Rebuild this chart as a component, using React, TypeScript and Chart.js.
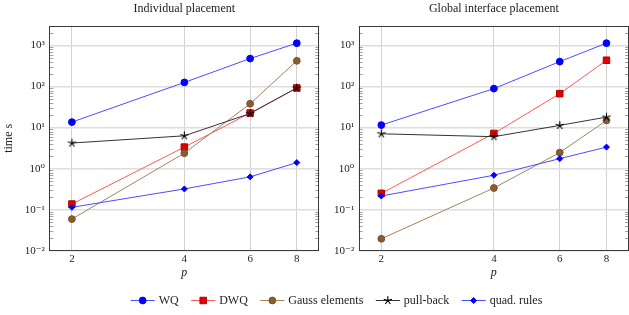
import React, { useEffect, useRef } from 'react';
import { Chart, registerables } from 'chart.js';
Chart.register(...registerables);

// ---------- data ----------
const P = [2, 4, 6, 8];
const SERIES = ['WQ', 'DWQ', 'Gauss elements', 'pull-back', 'quad. rules'];
const TITLES = ['Individual placement', 'Global interface placement'];

const leftWQ = [13.6, 126, 480, 1140];
const leftDWQ = [0.137, 3.34, 22.6, 92.5];
const leftGauss = [0.059, 2.38, 38, 423];
const leftPullBack = [4.2, 6.3, 22, 92];
const leftQuad = [0.114, 0.32, 0.63, 1.4];

const rightWQ = [11.5, 89, 405, 1140];
const rightDWQ = [0.25, 7.2, 67, 437];
const rightGauss = [0.0195, 0.337, 2.46, 14.9];
const rightPullBack = [7.05, 6.0, 11.3, 18];
const rightQuad = [0.215, 0.69, 1.75, 3.34];

const Y_TICKS = [0.01, 0.1, 1, 10, 100, 1000];
const Y_TICK_LABELS = ['10⁻²', '10⁻¹', '10⁰', '10¹', '10²', '10³'];
const X_TICK_LABELS = ['2', '4', '6', '8'];
const X_MIN = 1.74, X_MAX = 9.19;
const Y_MIN = 0.01, Y_MAX = 3000;

// ---------- styles ----------
const FONT = '"Liberation Serif", "DejaVu Serif", serif';
const TEXT = '#222';
const STYLES = [
  { line: '#4d4dff', fill: '#0000ff', border: '#0000ff', marker: 'circle', r: 3.4 },
  { line: '#ff5a5a', fill: '#e00000', border: '#b00000', marker: 'rect', r: 4.6 },
  { line: '#a5825c', fill: '#8c5c30', border: '#7a5028', marker: 'circle', r: 3.4 },
  { line: '#333333', fill: '#000000', border: '#000000', marker: 'star', r: 4.3 },
  { line: '#4d4dff', fill: '#0000ff', border: '#0000ff', marker: 'rectRot', r: 3 },
];

function drawMarker(ctx: CanvasRenderingContext2D, kind: string, x: number, y: number, s: any) {
  ctx.fillStyle = s.fill;
  ctx.strokeStyle = s.border;
  ctx.lineWidth = 1;
  ctx.beginPath();
  if (kind === 'circle') {
    ctx.arc(x, y, s.r, 0, Math.PI * 2);
    ctx.fill(); ctx.stroke();
  } else if (kind === 'rect') {
    const h = s.r * Math.SQRT1_2;
    ctx.rect(x - h, y - h, 2 * h, 2 * h);
    ctx.fill(); ctx.stroke();
  } else if (kind === 'rectRot') {
    ctx.moveTo(x - s.r, y); ctx.lineTo(x, y - s.r); ctx.lineTo(x + s.r, y); ctx.lineTo(x, y + s.r);
    ctx.closePath(); ctx.fill(); ctx.stroke();
  } else if (kind === 'star') {
    ctx.lineWidth = 1.1;
    for (let k = 0; k < 5; k++) {
      const a = (k * 72 * Math.PI) / 180;
      ctx.moveTo(x, y);
      ctx.lineTo(x + s.r * Math.sin(a), y - s.r * Math.cos(a));
    }
    ctx.stroke();
  }
}

function makeStarImage(s: any) {
  const c = document.createElement('canvas');
  c.width = 11; c.height = 11;
  const ctx = c.getContext('2d')!;
  drawMarker(ctx, 'star', 5.5, 5.5, s);
  return c;
}

const framePlugin = {
  id: 'frame',
  beforeDatasetsDraw(chart: any) {
    const { ctx, chartArea: a, scales } = chart;
    const ys = scales.y;
    ctx.save();
    ctx.strokeStyle = '#8a8a8a';
    ctx.lineWidth = 0.8;
    ctx.beginPath();
    for (let e = -2; e < 4; e++) {
      for (let m = 2; m < 10; m++) {
        const v = m * Math.pow(10, e);
        if (v > ys.max) continue;
        const py = Math.round(ys.getPixelForValue(v)) + 0.5;
        ctx.moveTo(a.left, py); ctx.lineTo(a.left + 4, py);
        ctx.moveTo(a.right - 4, py); ctx.lineTo(a.right, py);
      }
    }
    ctx.stroke();
    ctx.restore();
  },
  afterDatasetsDraw(chart: any) {
    const { ctx, chartArea: a } = chart;
    ctx.save();
    ctx.strokeStyle = '#3a3a3a';
    ctx.lineWidth = 1;
    const l = Math.round(a.left) + 0.5, t = Math.round(a.top) + 0.5;
    const r = Math.round(a.right) - 0.5, b = Math.round(a.bottom) - 0.5;
    ctx.strokeRect(l, t, r - l, b - t);
    ctx.restore();
  },
};

function Panel(props: { idx: number; series: number[][]; left: number; width: number; yWidth: number; padRight: number }) {
  const ref = useRef<HTMLCanvasElement>(null);
  useEffect(() => {
    const star = makeStarImage(STYLES[3]);
    const datasets = props.series.map((vals, i) => {
      const s = STYLES[i];
      return {
        label: SERIES[i],
        data: P.map((p, j) => ({ x: p, y: vals[j] })),
        borderColor: s.line,
        backgroundColor: s.fill,
        borderWidth: 1,
        pointBackgroundColor: s.fill,
        pointBorderColor: s.border,
        pointBorderWidth: 1,
        pointRadius: s.r,
        pointStyle: s.marker === 'star' ? star : s.marker,
        tension: 0,
        fill: false,
        order: 5 - i,
      };
    });
    const tickFont = { family: FONT, size: 11 };
    const chart = new Chart(ref.current!, {
      type: 'line',
      data: { datasets } as any,
      plugins: [framePlugin],
      options: {
        animation: false,
        responsive: false,
        events: [],
        layout: { autoPadding: false, padding: { left: 0, right: props.padRight, top: 0, bottom: 0 } },
        plugins: {
          legend: { display: false },
          tooltip: { enabled: false },
          title: {
            display: true,
            fullSize: false,
            text: TITLES[props.idx],
            color: TEXT,
            font: { family: FONT, size: 12, weight: 'normal' },
            padding: { top: 1.5, bottom: 10 },
          },
        },
        scales: {
          x: {
            type: 'logarithmic',
            bounds: 'data',
            min: X_MIN,
            max: X_MAX,
            afterBuildTicks: (s: any) => {
              s.ticks = P.map((v) => ({ value: v }));
              s.min = X_MIN; s.max = X_MAX;
            },
            afterFit: (s: any) => { s.height = 29.3; s.paddingLeft = 0; s.paddingRight = 0; },
            ticks: {
              callback: (_v: any, i: number) => X_TICK_LABELS[i],
              font: tickFont, color: TEXT, padding: 2, autoSkip: false, maxRotation: 0,
            },
            grid: { color: '#d2d2d2', lineWidth: 1, drawTicks: false },
            border: { display: false },
            title: {
              display: true, text: 'p', color: TEXT,
              font: { family: FONT, size: 12, style: 'italic' },
              padding: { top: 0, bottom: 0 },
            },
          },
          y: {
            type: 'logarithmic',
            bounds: 'data',
            min: Y_MIN,
            max: Y_MAX,
            afterBuildTicks: (s: any) => {
              s.ticks = Y_TICKS.map((v) => ({ value: v }));
              s.min = Y_MIN; s.max = Y_MAX;
            },
            afterFit: (s: any) => { s.width = props.yWidth; s.paddingTop = 0; s.paddingBottom = 0; },
            ticks: {
              callback: (_v: any, i: number) => Y_TICK_LABELS[i],
              font: tickFont, color: TEXT, padding: 4.5, autoSkip: false,
            },
            grid: { color: '#dedede', lineWidth: 1.5, drawTicks: false },
            border: { display: false },
            title: {
              display: props.idx === 0, text: 'time s', color: TEXT,
              font: { family: FONT, size: 12 },
              padding: { top: 1.4, bottom: 0 },
            },
          },
        },
      } as any,
    });
    return () => chart.destroy();
  }, []);
  return (
    <canvas
      ref={ref}
      width={props.width}
      height={280}
      style={{ position: 'absolute', left: props.left, top: 0, width: props.width, height: 280 }}
    />
  );
}

// Legend drawn by a plugin on its own (axis-less) Chart.js chart.
const legendPlugin = {
  id: 'lineLegend',
  afterDraw(chart: any) {
    const { ctx } = chart;
    const names: string[] = chart.data.datasets.map((d: any) => d.label);
    const lineW = 24, textGap = 4, itemGap = 12.5;
    ctx.save();
    ctx.font = `12px ${FONT}`;
    const widths = names.map((n) => ctx.measureText(n).width);
    const total = widths.reduce((a, w) => a + lineW + textGap + w, 0) + itemGap * (names.length - 1);
    const cx = 336.5, cy = 20.5;
    let x = cx - total / 2;
    names.forEach((n, i) => {
      const s = STYLES[i];
      ctx.strokeStyle = s.line;
      ctx.lineWidth = 1;
      ctx.beginPath(); ctx.moveTo(x, cy); ctx.lineTo(x + lineW, cy); ctx.stroke();
      drawMarker(ctx, s.marker, x + lineW / 2, cy, s);
      ctx.fillStyle = TEXT;
      ctx.textBaseline = 'middle';
      ctx.textAlign = 'left';
      ctx.fillText(n, x + lineW + textGap, cy);
      x += lineW + textGap + widths[i] + itemGap;
    });
    ctx.restore();
  },
};

function Legend() {
  const ref = useRef<HTMLCanvasElement>(null);
  useEffect(() => {
    const chart = new Chart(ref.current!, {
      type: 'line',
      data: { datasets: SERIES.map((name) => ({ label: name, data: [] })) },
      plugins: [legendPlugin],
      options: {
        animation: false,
        responsive: false,
        events: [],
        layout: { autoPadding: false },
        scales: { x: { display: false }, y: { display: false } },
        plugins: { tooltip: { enabled: false }, legend: { display: false } },
      } as any,
    });
    return () => chart.destroy();
  }, []);
  return (
    <canvas
      ref={ref}
      width={629}
      height={35}
      style={{ position: 'absolute', left: 0, top: 280, width: 629, height: 35 }}
    />
  );
}

export default function App() {
  return (
    <div style={{ position: 'absolute', left: 0, top: 0, width: 629, height: 315, background: '#fff', overflow: 'hidden' }}>
      <Panel idx={0} series={[leftWQ, leftDWQ, leftGauss, leftPullBack, leftQuad]} left={0} width={322} yWidth={49.3} padRight={2.7} />
      <Panel idx={1} series={[rightWQ, rightDWQ, rightGauss, rightPullBack, rightQuad]} left={322} width={307} yWidth={36.7} padRight={0} />
      <Legend />
    </div>
  );
}
